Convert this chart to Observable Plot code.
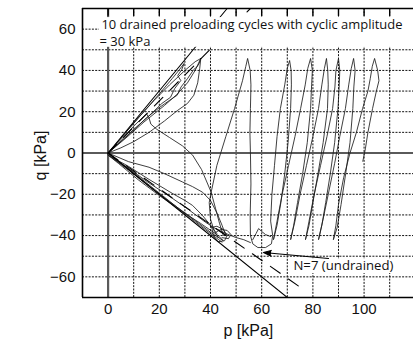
<!DOCTYPE html>
<html><head><meta charset="utf-8">
<script src="https://cdn.jsdelivr.net/npm/d3@7"></script>
<script src="https://cdn.jsdelivr.net/npm/@observablehq/plot@0.6"></script>
<style>
html,body{margin:0;padding:0;background:#fff;}
#chart{width:413px;height:339px;overflow:hidden;}
</style></head><body><div id="chart"></div>
<script>
// ---- tick labels / grid ----
const pTicks = [0, 20, 40, 60, 80, 100];
const qTicks = [-60, -40, -20, 0, 20, 40, 60];
const gridP = [10, 20, 30, 40, 50, 60, 70, 80, 90, 100, 110];
const gridQ = [-60, -50, -40, -30, -20, -10, 10, 20, 30, 40, 50, 60];
const topTicks = [0, 10, 20, 30, 40, 50, 60, 70, 80, 90, 100, 110];

// ---- reference lines (p, q) ----
const cslComp = [[0, 0], [46.5, 70]];
const cslExt = [[0, 0], [70, -70]];
const dashComp = [[0, 0], [55.6, 70]];
const dashExt = [[0, 0], [75, -65]];

// ---- drained preloading cycles (compression side) ----
const drained1 = [[0,0],[5,7.2],[10,14.4],[15,21.5],[20,28.6],[25,36],[28,40.6],[29.7,43.4],[28.8,40.5],[27.2,37.5],[28.4,35.1],[26,31.2],[24.4,27],[21,24],[16,18],[11,12.5],[6,6.8],[0,0]];
const drained2 = [[0,0],[6,8.6],[12,17.3],[18,25.5],[24,33],[30,40],[34,44.2],[36.2,45.8],[35.6,43.5],[34.8,41.8],[33.5,40.5],[31,36],[28.5,32],[27,28],[24,25.5],[20,22],[15,17],[9,10],[0,0]];
const drained3 = [[0,0],[7,7.3],[14,15],[22,23],[27,28.5],[31,34],[34,40],[36.2,45.8]];
const drained4 = [[0,0],[5,2.5],[10,5.5],[16,10],[22,15.5],[27,20.5],[31,24],[33.5,28],[35,34],[35.8,41],[36.2,45.8]];
const kinkPath = [[0,0],[5,6.5],[10,13],[15,19],[16,17],[16.7,14],[19,11.5],[24,7.5],[29,3.5],[33,-1],[36.5,-8],[40.2,-18.8],[42,-27],[43.5,-34],[45,-40]];

// ---- drained preloading cycles (extension side) ----
const ext1 = [[0,0],[5,-4.8],[10,-9.6],[20,-19.4],[30,-29.3],[38,-37.2],[43,-41.8],[44.5,-43.2]];
const ext2 = [[0,-1],[8,-8.3],[16,-16.2],[24,-23.6],[32,-30.8],[40,-38.4],[45,-42.5],[43,-40],[36,-34],[28,-27.6],[20,-20.6],[12,-13.2],[4,-5],[0,-1]];
const ext3 = [[0,-1],[8,-6.5],[16,-12.8],[25,-19.5],[30,-23],[33,-25.4],[36.9,-30.3],[40,-35],[42.5,-39]];
const ext4 = [[0,0],[8,-4.2],[16,-6.9],[22,-10],[29,-14],[33,-16.3],[36.9,-19],[40,-23],[42.5,-29],[44.5,-35],[46,-40],[43,-37.5],[38,-33.5],[31,-27],[24,-21],[16,-14.5],[8,-7.5],[0,-1]];
const loopA = [[40.5,-36],[42.5,-35.5],[45,-37],[46.5,-40],[45.5,-42.5],[43,-43],[41.2,-40.5],[40.5,-36]];
const loopB = [[42,-38.5],[44,-37],[46.5,-37.5],[48,-39.5],[47,-41.5],[44.5,-41]];
const tail = [[42,-36.6],[46,-39],[49.8,-40.9],[53,-42],[55.6,-43.4]];
const bump = [[56.5,-42],[57.8,-39],[58.8,-36.6],[60,-38],[61.5,-39.5],[63.5,-40.5]];

// ---- undrained cycles ----
const undrained = [
[99.5,-4],[100.5,2],[101.5,10],[103.3,21.5],[104.8,30],[105.8,35],[105.3,40],[104.1,45.8],
[103.2,42],[102.4,36],[101.5,30],[99.4,21.5],[97,10],[94.5,0],[92,-12],[90,-25],[89,-35],[88,-42],
[89.5,-36],[91,-25],[92.8,-10],[94.5,5],[95.6,21.5],[96,32],[96.5,40],[95.9,45.8],
[95,41],[94,33],[92.7,21.5],[90.5,8],[88.5,-5],[86,-20],[84,-32],[82.2,-42],
[83.5,-35],[85,-24],[86.8,-10],[88.5,5],[89.8,21.5],[90.3,33],[90.5,40],[90,45.8],
[89,40],[88.6,32],[87.7,21.5],[85.5,8],[83,-6],[80.5,-20],[78.5,-33],[77.1,-42],
[78.5,-35],[80,-24],[82,-10],[84,5],[85.7,21.5],[86,33],[85.8,40],[85.3,45.8],
[84.5,41],[83.5,33],[82.2,21.5],[80,8],[77.5,-6],[75,-20],[73,-33],[71.3,-42],
[72.5,-35],[74,-24],[76,-10],[77.8,5],[79.1,21.5],[79.5,33],[79.8,40],[79.1,45.8],
[78,41],[77,33],[75.2,21.5],[73,8],[70.5,-6],[68,-20],[66,-33],[64.6,-42],
[66,-35],[67.5,-24],[69,-10],[70.3,5],[71.3,21.5],[71.6,33],[71.5,40],[70.9,44.8],
[70,41],[69,33],[67.3,21.5],[66,8],[65,-6],[64,-20],[63.5,-33],[64.3,-40],
[63.8,-44],[61.5,-45.8],[58.5,-45.8],[56.5,-44],[55.6,-40],[55.5,-30],[55.8,-15],[55.6,0],[55.4,10],[55.6,21.5],[55.8,33],[55.5,40],[54.5,45.8],
[53.8,42],[52.5,35],[49.4,21.5],[46,8],[42.5,-6],[40.3,-18.8],[39.5,-24],[40,-32],[41.5,-38],[43,-41]
];

// ---- annotations ----
const titleLine1 = "10 drained preloading cycles with cyclic amplitude";
const titleLine2 = "= 30 kPa";
const noteText = "N=7 (undrained)";
const xLabel = "p [kPa]";
const yLabel = "q [kPa]";

// build tables
const toRows = (obj) => Object.entries(obj).flatMap(([id, pts]) => pts.map(([p, q]) => ({id, p, q})));
const pathRows = toRows({drained1, drained2, drained3, drained4, kinkPath, ext1, ext2, ext3, ext4, loopA, loopB, tail, bump, undrained});
const solidRows = toRows({cslComp, cslExt});
const dashRows = toRows({dashComp, dashExt});

const fmt = d => d < 0 ? "\u2212" + Math.abs(d) : String(d);
const ink = "#1c1c1c";

const chart = Plot.plot({
  width: 413, height: 339,
  marginLeft: 82, marginRight: 0, marginTop: 8, marginBottom: 42,
  x: {domain: [-10, 119.3]},
  y: {domain: [-70, 70]},
  style: {fontFamily: "'Liberation Sans', Arial, sans-serif", background: "white", color: "#111", overflow: "visible"},
  marks: [
    Plot.ruleX(gridP, {stroke: "#111", strokeWidth: 1, strokeDasharray: "2,1.3"}),
    Plot.ruleY(gridQ, {stroke: "#111", strokeWidth: 1, strokeDasharray: "2,1.3"}),
    Plot.ruleX([0], {stroke: "#5a5a5a", strokeWidth: 2.2}),
    Plot.ruleY([0], {stroke: "#5a5a5a", strokeWidth: 2.2}),
    Plot.line(pathRows, {x: "p", y: "q", z: "id", stroke: ink, strokeWidth: 0.85, clip: true}),
    Plot.line(solidRows, {x: "p", y: "q", z: "id", stroke: "#000", strokeWidth: 1.1, clip: true}),
    Plot.line(dashRows, {x: "p", y: "q", z: "id", stroke: "#000", strokeWidth: 1.1, strokeDasharray: "12,10", clip: true}),
    // white background of the top annotation
    Plot.rect([{x1: -3.4, x2: 119.3, y1: 51.2, y2: 65.6}], {x1: "x1", x2: "x2", y1: "y1", y2: "y2", fill: "white"}),
    Plot.rect([{x1: 71.3, x2: 113.5, y1: -58.4, y2: -51.6}], {x1: "x1", x2: "x2", y1: "y1", y2: "y2", fill: "white"}),
    Plot.ruleX(topTicks, {y1: 66.2, y2: 70, stroke: "#000", strokeWidth: 1.4}),
    Plot.ruleX([-10], {stroke: "#000", strokeWidth: 1.6}),
    Plot.ruleY([-70, 70], {stroke: "#000", strokeWidth: 1.6}),
    Plot.text([titleLine1], {x: -2.6, y: 62.0, text: d => d, textAnchor: "start", fontSize: 11.8, fontFamily: "'Open Sans', sans-serif", fill: "#111"}),
    Plot.text([titleLine2], {x: -3.4, y: 53.8, text: d => d, textAnchor: "start", fontSize: 11.8, fontFamily: "'Open Sans', sans-serif", fill: "#111"}),
    Plot.text([noteText], {x: 72.4, y: -54.7, text: d => d, textAnchor: "start", fontSize: 12.5, fontFamily: "'Open Sans', sans-serif", fill: "#111"}),
    Plot.arrow([{x1: 86.1, y1: -51.1, x2: 60.7, y2: -48.2}], {x1: "x1", y1: "y1", x2: "x2", y2: "y2", stroke: "#000", strokeWidth: 1.2, headLength: 10, headAngle: 40, fill: "#000"}),
    Plot.axisX(pTicks, {tickSize: 0, tickPadding: 6, fontSize: 15, label: null, tickFormat: fmt}),
    Plot.axisY(qTicks, {tickSize: 0, tickPadding: 7, fontSize: 15, label: null, tickFormat: fmt}),
    Plot.text([xLabel], {x: 54.8, y: -86.2, text: d => d, fontSize: 16, fill: "#111"}),
    Plot.text([yLabel], {x: -26.2, y: -1.2, text: d => d, rotate: -90, fontSize: 16, fill: "#111"})
  ]
});
document.getElementById("chart").appendChild(chart);

// fit annotation widths to the reference
const widths = {[titleLine1]: 301, [titleLine2]: 51, [noteText]: 100};
chart.querySelectorAll("text").forEach(t => {
  const w = widths[t.textContent];
  if (w) { t.setAttribute("textLength", w); t.setAttribute("lengthAdjust", "spacingAndGlyphs"); }
});
</script>
</body></html>
